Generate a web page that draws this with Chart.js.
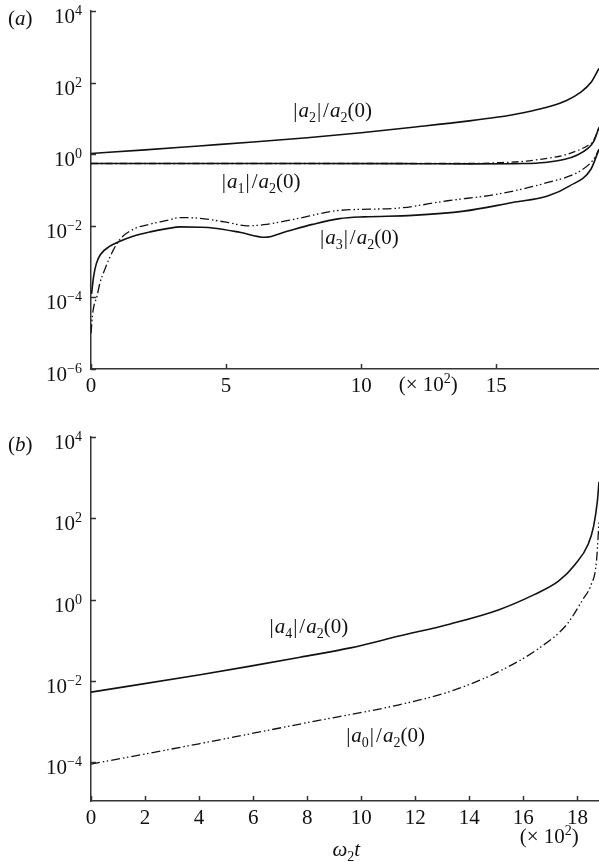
<!DOCTYPE html>
<html>
<head>
<meta charset="utf-8">
<script src="https://cdn.jsdelivr.net/npm/chart.js@4.4.1/dist/chart.umd.min.js"></script>
<style>
    html, body { margin: 0; padding: 0; background: #fff; }
    canvas { display: block; }
</style>
</head>
<body>
<canvas id="chartA" width="599" height="400"></canvas>
<canvas id="chartB" width="599" height="462"></canvas>
<script>
// ===== DATA (t in units of 10^2, values stored as log10) =====

// panel (a)
const tA2   = [0, 2, 4, 6, 8, 10, 12, 14, 15, 16, 17, 17.6, 18.1, 18.5, 18.8];
const logA2 = [0.02, 0.12, 0.23, 0.34, 0.46, 0.6, 0.76, 0.93, 1.03, 1.16, 1.34, 1.5, 1.72, 2.0, 2.4];

const tA1   = [0, 4, 8, 12, 14, 16, 16.8, 17.5, 18, 18.4, 18.6, 18.8];
const logA1 = [-0.26, -0.26, -0.26, -0.265, -0.27, -0.26, -0.23, -0.15, -0.02, 0.17, 0.35, 0.75];

const tA1d   = [0, 4, 8, 12, 14, 15, 16, 17, 17.5, 18, 18.4, 18.6, 18.8];
const logA1d = [-0.26, -0.26, -0.26, -0.26, -0.26, -0.24, -0.2, -0.1, -0.03, 0.1, 0.25, 0.38, 0.75];

const tA3   = [0.02, 0.1, 0.2, 0.35, 0.7, 1.07, 1.56, 2.19, 2.81, 3.3, 4.04, 4.5, 5.5, 6.44, 7.26, 8.2, 9.2, 10.1, 11.9, 13.8, 15.6, 16.9, 17.7, 18.5, 18.8];
const logA3 = [-3.9, -3.4, -3.05, -2.8, -2.57, -2.43, -2.29, -2.17, -2.08, -2.03, -2.04, -2.06, -2.18, -2.32, -2.15, -1.96, -1.8, -1.75, -1.71, -1.59, -1.35, -1.17, -0.89, -0.42, 0.14];

const tA3d   = [0, 0.07, 0.22, 0.33, 0.52, 0.81, 1.07, 1.56, 2.2, 2.81, 3.3, 4.04, 5.0, 5.8, 6.5, 7.5, 9.2, 11.3, 13.2, 15.0, 16.9, 18.1, 18.6, 18.8];
const logA3d = [-5.0, -4.4, -3.97, -3.6, -3.2, -2.7, -2.38, -2.1, -1.95, -1.85, -1.77, -1.79, -1.9, -2.0, -1.96, -1.82, -1.57, -1.51, -1.3, -1.12, -0.79, -0.47, -0.14, 0.14];

// panel (b)
const tB4   = [0, 4.04, 5.9, 7.74, 9.6, 11.4, 13.3, 15.1, 16.4, 17.3, 17.9, 18.4, 18.6, 18.74, 18.8];
const logB4 = [-2.28, -1.85, -1.64, -1.42, -1.19, -0.9, -0.6, -0.25, 0.12, 0.45, 0.85, 1.36, 1.8, 2.42, 2.9];

const tB0   = [0, 4, 8, 11.4, 13.3, 15.1, 16.6, 17.6, 18.2, 18.5, 18.7, 18.8];
const logB0 = [-4.05, -3.55, -3.03, -2.59, -2.26, -1.77, -1.19, -0.62, 0.0, 0.35, 0.9, 1.9];

// ticks
const xTicksA = [0, 5, 10, 15];
const xTicksB = [0, 2, 4, 6, 8, 10, 12, 14, 16, 18];
const yExpA = [-6, -4, -2, 0, 2, 4];
const yExpB = [-4, -2, 0, 2, 4];

// ===== HELPERS =====
const SERIF = '"Liberation Serif", "DejaVu Serif", serif';
const INK = '#111';
const AXIS = '#333';

function pts(ts, logs) {
    return ts.map((t, i) => ({ x: t, y: Math.pow(10, logs[i]) }));
}

function fontFor(s) {
    if (s === 'i') return 'italic 21px ' + SERIF;
    if (s === 'sub' || s === 'sup') return '14px ' + SERIF;
    return '21px ' + SERIF;
}

function richWidth(ctx, parts) {
    let w = 0;
    parts.forEach(p => { ctx.font = fontFor(p[1]); w += ctx.measureText(p[0]).width + (p[2] || 0); });
    return w;
}

// parts: [text, style, extraSpacingAfter]
function drawRich(ctx, parts, x, y, align) {
    const w = richWidth(ctx, parts);
    let cx = align === 'center' ? x - w / 2 : (align === 'right' ? x - w : x);
    ctx.textAlign = 'left';
    ctx.textBaseline = 'alphabetic';
    ctx.fillStyle = INK;
    parts.forEach(p => {
        ctx.font = fontFor(p[1]);
        let dy = 0;
        if (p[1] === 'sub') dy = 5;
        if (p[1] === 'sup') dy = -8;
        ctx.fillText(p[0], cx, y + dy);
        cx += ctx.measureText(p[0]).width + (p[2] || 0);
    });
}

function ratioLabel(n) {
    return [['|', 'n', 1], ['a', 'i'], [String(n), 'sub', 1], ['|', 'n', 2], ['/', 'n', 1], ['a', 'i'], ['2', 'sub'], ['(0)', 'n']];
}

function expLabel(e) {
    const s = e < 0 ? '\u2212' + Math.abs(e) : String(e);
    return [['10', 'n'], [s, 'sup']];
}

// ===== AXES DECORATION PLUGIN =====
function axesPlugin(cfg) {
    return {
        id: 'eixos',
        afterDraw(chart) {
            const ctx = chart.ctx;
            const xs = chart.scales.x, ys = chart.scales.y;
            const area = chart.chartArea;
            ctx.save();
            ctx.strokeStyle = AXIS;
            ctx.lineWidth = 1.5;
            // inward tick marks
            ys.ticks.forEach(tk => {
                const py = Math.round(ys.getPixelForValue(tk.value)) + 0.5;
                ctx.beginPath(); ctx.moveTo(area.left, py); ctx.lineTo(area.left + 5, py); ctx.stroke();
            });
            xs.ticks.forEach(tk => {
                const px = Math.round(xs.getPixelForValue(tk.value)) + 0.5;
                ctx.beginPath(); ctx.moveTo(px, area.bottom); ctx.lineTo(px, area.bottom - 5); ctx.stroke();
            });
            // y labels 10^n
            cfg.yExp.forEach(e => {
                const py = ys.getPixelForValue(Math.pow(10, e));
                drawRich(ctx, expLabel(e), area.left - 9, py + 12, 'right');
            });
            // x labels
            ctx.font = '21px ' + SERIF;
            ctx.fillStyle = INK;
            ctx.textAlign = 'center';
            ctx.textBaseline = 'alphabetic';
            xs.ticks.forEach(tk => {
                ctx.fillText(String(tk.value), xs.getPixelForValue(tk.value), area.bottom + 23);
            });
            // panel letter
            drawRich(ctx, [['(', 'n'], ['a' === cfg.letter ? 'a' : 'b', 'i'], [')', 'n']], 8, area.top + 14, 'left');
            // curve labels
            cfg.labels.forEach(lb => {
                drawRich(ctx, ratioLabel(lb.n), xs.getPixelForValue(lb.t), ys.getPixelForValue(lb.v), 'center');
            });
            // extra texts below axis
            cfg.extras.forEach(ex => {
                drawRich(ctx, ex.parts, xs.getPixelForValue(ex.t), area.bottom + ex.dy, 'center');
            });
            ctx.restore();
        }
    };
}

function line(data, dash, width) {
    return {
        data: data,
        borderColor: INK,
        borderWidth: width,
        borderDash: dash,
        pointRadius: 0,
        fill: false,
        cubicInterpolationMode: 'monotone'
    };
}

function makeChart(id, datasets, yMin, yMax, yExp, xTicks, padTop, xHeight, cfg) {
    return new Chart(document.getElementById(id), {
        type: 'line',
        data: { datasets: datasets },
        options: {
            responsive: false,
            animation: false,
            devicePixelRatio: 1,
            layout: { padding: { top: padTop, left: 0, right: 0, bottom: 0 } },
            plugins: { legend: { display: false }, tooltip: { enabled: false } },
            scales: {
                x: {
                    type: 'linear', min: 0, max: 18.8,
                    grid: { display: false },
                    border: { display: true, color: AXIS, width: 1.5 },
                    ticks: { display: false },
                    afterBuildTicks: s => { s.ticks = xTicks.map(v => ({ value: v })); },
                    afterFit: s => { s.height = xHeight; }
                },
                y: {
                    type: 'logarithmic', min: yMin, max: yMax,
                    grid: { display: false },
                    border: { display: true, color: AXIS, width: 1.5 },
                    ticks: { display: false },
                    afterBuildTicks: s => { s.ticks = yExp.map(e => ({ value: Math.pow(10, e) })); },
                    afterFit: s => { s.width = 91; }
                }
            }
        },
        plugins: [axesPlugin(Object.assign({ yExp: yExp }, cfg))]
    });
}

// ===== PANEL (a) =====
const DASHDOT = [7, 3, 1.5, 3];
const DASHDOTDOT = [9, 3, 1.5, 2.5, 1.5, 3];

makeChart('chartA', [
    line(pts(tA2, logA2), [], 1.6),
    line(pts(tA1d, logA1d), DASHDOT, 1.3),
    line(pts(tA1, logA1), [], 1.6),
    line(pts(tA3d, logA3d), DASHDOTDOT, 1.3),
    line(pts(tA3, logA3), [], 1.6)
], 1e-6, 1e4, yExpA, xTicksA, 11, 31, {
    letter: 'a',
    labels: [
        { n: 2, t: 8.94, v: 10.9 },
        { n: 1, t: 6.3, v: 0.117 },
        { n: 3, t: 9.93, v: 0.0032 }
    ],
    extras: [
        { parts: [['(\u00d7 10', 'n'], ['2', 'sup'], [')', 'n']], t: 12.48, dy: 22 }
    ]
});

// ===== PANEL (b) =====
makeChart('chartB', [
    line(pts(tB4, logB4), [], 1.6),
    line(pts(tB0, logB0), DASHDOTDOT, 1.3)
], 1.1e-5, 1e4, yExpB, xTicksB, 37, 61, {
    letter: 'b',
    labels: [
        { n: 4, t: 8.06, v: 0.15 },
        { n: 0, t: 10.9, v: 0.00032 }
    ],
    extras: [
        { parts: [['(\u00d7 10', 'n'], ['2', 'sup'], [')', 'n']], t: 16.96, dy: 42 },
        { parts: [['\u03c9', 'i'], ['2', 'sub'], ['t', 'i']], t: 9.45, dy: 55 }
    ]
});
</script>
</body>
</html>
